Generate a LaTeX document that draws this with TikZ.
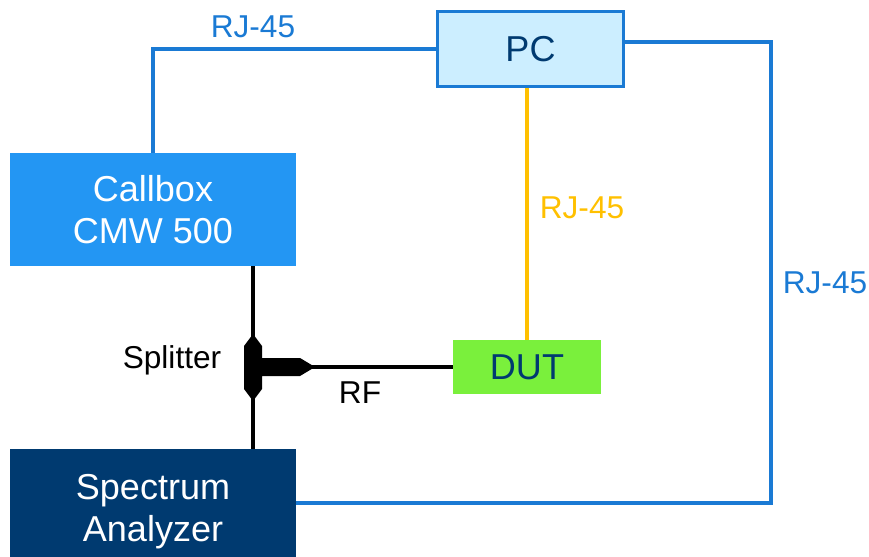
\documentclass[tikz,border=0pt]{standalone}
\usepackage{fontspec}
\setmainfont{Liberation Sans}
\usetikzlibrary{positioning}

\definecolor{netblue}{RGB}{26,122,212}
\definecolor{pcfill}{RGB}{204,238,255}
\definecolor{callblue}{RGB}{35,150,243}
\definecolor{navy}{RGB}{0,58,112}
\definecolor{dutgreen}{RGB}{122,240,60}
\definecolor{rjorange}{RGB}{255,192,0}

\begin{document}
\begin{tikzpicture}[x=0.02cm, y=-0.02cm,
    box/.style={inner sep=0pt, align=center, font=\fontsize{20.5}{24}\selectfont},
    tag/.style={inner sep=0pt, font=\fontsize{18}{21}\selectfont},
    net/.style={draw=netblue, line width=2.2pt},
    rf/.style={draw=black, line width=2.2pt}]
    \useasboundingbox (0,0) rectangle (869,557);

    % Geraete
    \node[box, fill=pcfill, draw=netblue, line width=1.4pt, text=navy,
          minimum width=3.72cm, minimum height=1.5cm] (pc) at (530.5,49) {PC};
    \node[box, fill=callblue, text=white,
          minimum width=5.72cm, minimum height=2.26cm] (callbox) at (153,209.5) {Callbox\\CMW 500};
    \node[box, fill=navy, text=white,
          minimum width=5.72cm, minimum height=2.5cm] (sa) at (153,511.5) {Spectrum\\Analyzer};
    \node[box, fill=dutgreen, text=navy,
          minimum width=2.96cm, minimum height=1.08cm] (dut) at (527,367) {DUT};

    % Netzwerk (RJ-45)
    \coordinate (ne) at (771,42);
    \coordinate (se) at (771,503);
    \draw[net] (callbox.north) |- (pc.west);
    \draw[net] (pc.east |- ne) -- (ne) -- (se) -- (se -| sa.east);
    \draw[draw=rjorange, line width=2.2pt] (dut.north) -- (dut.north |- pc.south);

    % RF mit Splitter
    \coordinate (split) at (253,367);
    \draw[rf] (callbox.south -| split) -- (sa.north -| split);
    \draw[rf] (split) -- (dut.west);
    \fill[black] (253,334) -- (262,346) -- (262,358) -- (300,358) -- (315,367)
        -- (300,376) -- (262,376) -- (262,389) -- (253,401) -- (244,389)
        -- (244,346) -- cycle;

    % Beschriftung
    \node[tag, text=netblue] (rj1) at (253,27) {RJ-45};
    \node[tag, text=rjorange] (rj2) at (582,208) {RJ-45};
    \node[tag, text=netblue] (rj3) at (825,283) {RJ-45};
    \node[tag] (splitlbl) at (172,360) {Splitter};
    \node[tag] (rflbl) at (360,393) {RF};
\end{tikzpicture}
\end{document}
